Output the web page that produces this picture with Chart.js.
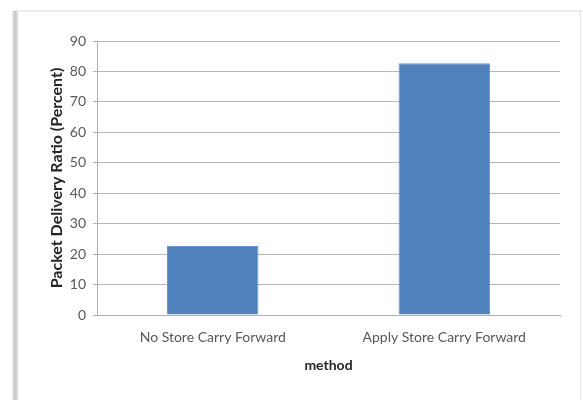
<!DOCTYPE html>
<html>
<head>
<meta charset="utf-8">
<script src="https://cdn.jsdelivr.net/npm/chart.js@4"></script>
<style>
html,body{margin:0;padding:0;background:#fff;}
#wrap{width:583px;height:400px;position:relative;}
</style>
</head>
<body>
<div id="wrap"><canvas id="c" width="583" height="400"></canvas></div>
<script>
const categories = ["No Store Carry Forward", "Apply Store Carry Forward"];
const deliveryRatio = [22.7, 82.7];
const yTitle = "Packet Delivery Ratio (Percent)";
const xTitle = "method";
const yMin = 0, yMax = 90, yStep = 10;

const frame = {
  id: 'frame',
  beforeDraw(chart) {
    const ctx = chart.ctx;
    ctx.save();
    ctx.fillStyle = '#ffffff';
    ctx.fillRect(0, 0, chart.width, chart.height);
    ctx.fillStyle = '#ececec';
    ctx.fillRect(16, 10, 567, 2);
    ctx.fillStyle = '#e6e6e6';
    ctx.fillRect(580, 11, 1, 389);
    const g = ctx.createLinearGradient(12, 0, 19, 0);
    g.addColorStop(0, '#f2f2f2');
    g.addColorStop(0.4, '#c4c4c4');
    g.addColorStop(0.7, '#d6d6d6');
    g.addColorStop(1, '#ffffff');
    ctx.fillStyle = g;
    ctx.fillRect(12, 11, 7, 389);
    ctx.restore();
  }
};

new Chart(document.getElementById('c'), {
  type: 'bar',
  data: {
    labels: categories,
    datasets: [{
      data: deliveryRatio,
      backgroundColor: '#4f81bd',
      borderColor: '#6a95c8',
      borderWidth: 1,
      categoryPercentage: 0.79,
      barPercentage: 0.5
    }]
  },
  plugins: [frame],
  options: {
    responsive: false,
    animation: false,
    devicePixelRatio: 1,
    layout: { padding: { left: 0, right: 23, top: 41, bottom: 0 } },
    plugins: { legend: { display: false }, tooltip: { enabled: false } },
    scales: {
      x: {
        afterFit(s) { s.height = 85; },
        grid: { display: false, drawTicks: false },
        border: { display: true, color: '#b0b0b0', width: 1 },
        ticks: { color: '#595959', font: { family: 'Lato', size: 14 }, padding: 14, maxRotation: 0 },
        title: { display: true, text: xTitle, color: '#262626', font: { family: 'Lato', size: 14, weight: 'bold' }, padding: { top: 0, bottom: 26 } }
      },
      y: {
        min: yMin, max: yMax,
        afterFit(s) { s.width = 97; },
        grid: { color: '#b8b8b8', lineWidth: 1, tickLength: 4, tickColor: '#b0b0b0' },
        border: { display: true, color: '#b0b0b0', width: 1 },
        ticks: { stepSize: yStep, color: '#595959', font: { family: 'Lato', size: 14 }, padding: 7 },
        title: { display: true, text: yTitle, color: '#262626', font: { family: 'Lato', size: 16, weight: 'bold' }, padding: { top: 47, bottom: 0 } }
      }
    }
  }
});
</script>
</body>
</html>
